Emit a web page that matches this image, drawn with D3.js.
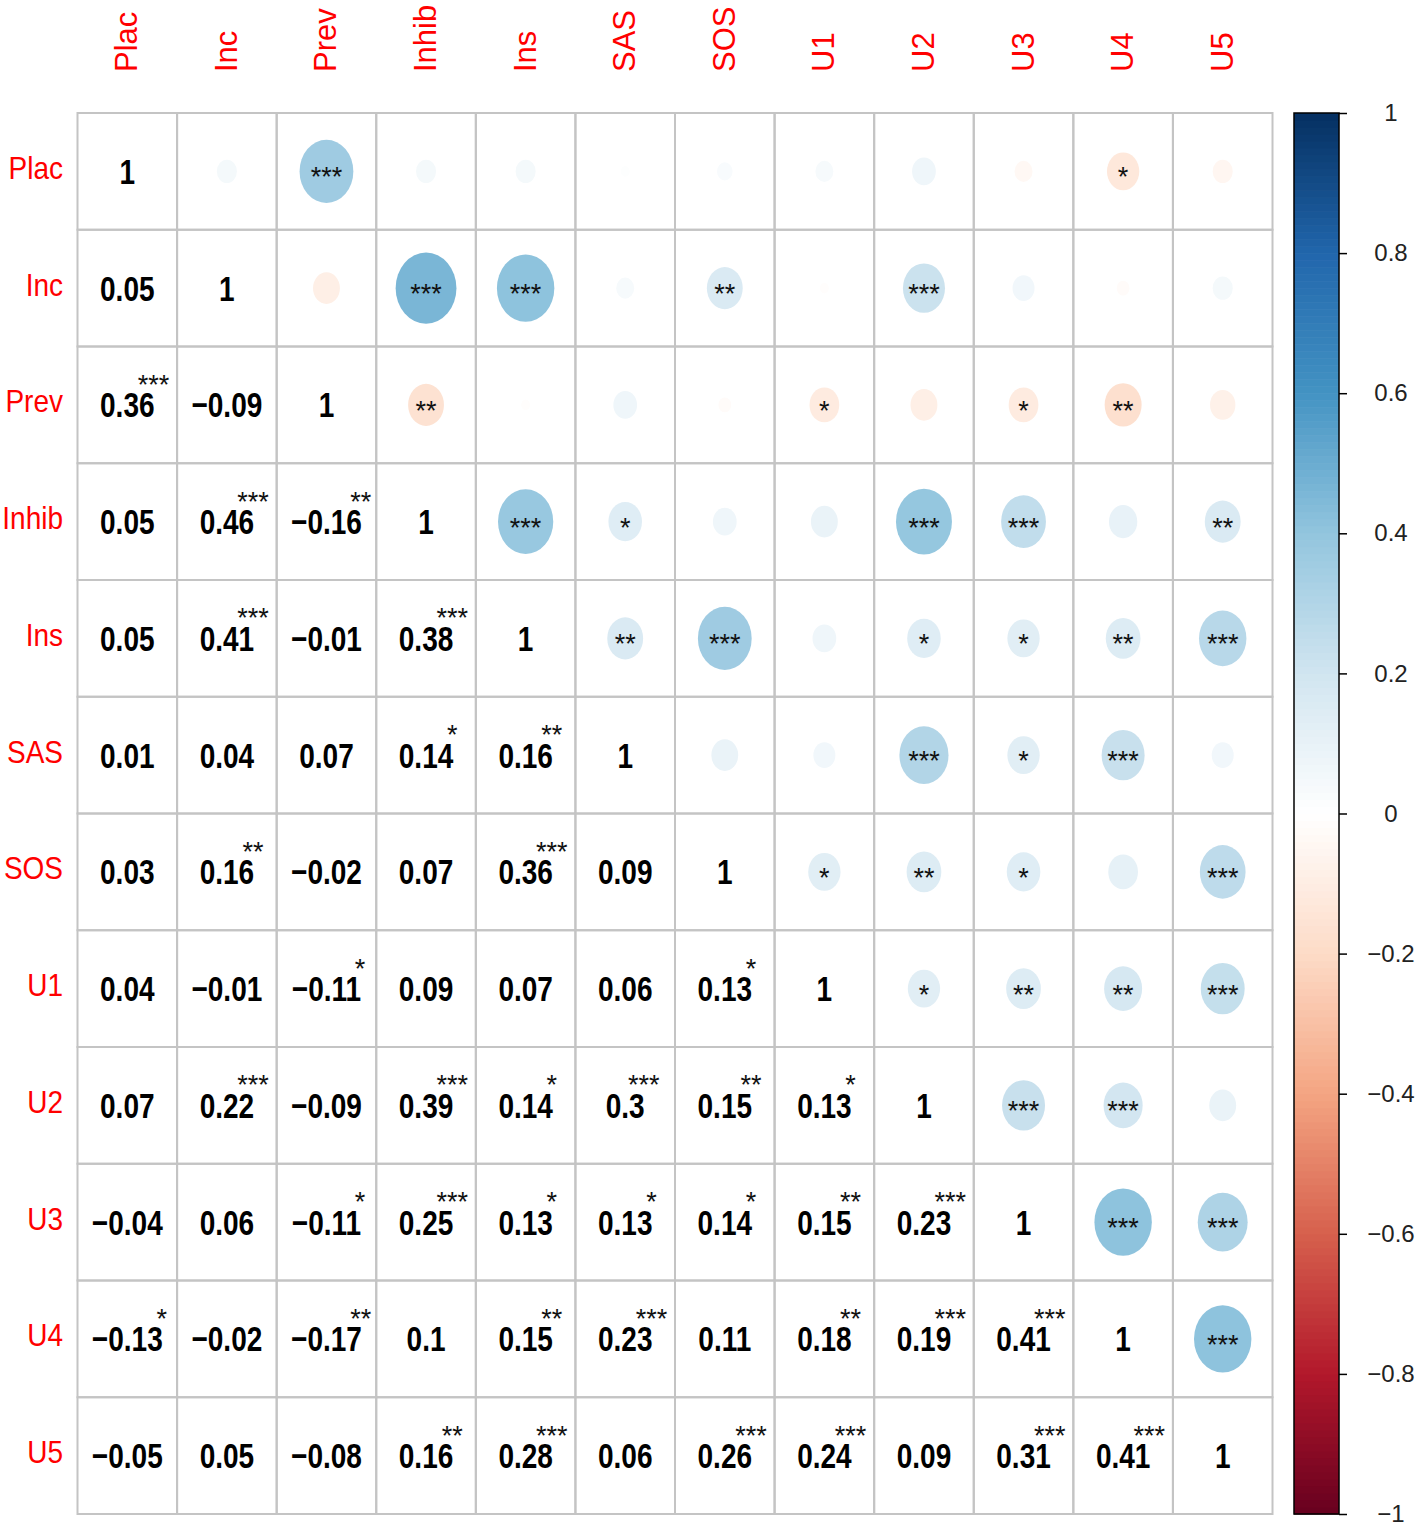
<!DOCTYPE html>
<html>
<head>
<meta charset="utf-8">
<script src="https://cdn.jsdelivr.net/npm/d3@7"></script>
<style>
  body { margin: 0; background: #fff; }
  text { font-family: "Liberation Sans", Arial, sans-serif; }
</style>
</head>
<body>
<svg id="chart" width="1418" height="1528"></svg>
<script>
const vars = ["Plac", "Inc", "Prev", "Inhib", "Ins", "SAS", "SOS", "U1", "U2", "U3", "U4", "U5"];

// lower triangle: row i holds correlations with columns 0..i-1
const lowerVals = [
  [],
  [0.05],
  [0.36, -0.09],
  [0.05, 0.46, -0.16],
  [0.05, 0.41, -0.01, 0.38],
  [0.01, 0.04, 0.07, 0.14, 0.16],
  [0.03, 0.16, -0.02, 0.07, 0.36, 0.09],
  [0.04, -0.01, -0.11, 0.09, 0.07, 0.06, 0.13],
  [0.07, 0.22, -0.09, 0.39, 0.14, 0.3, 0.15, 0.13],
  [-0.04, 0.06, -0.11, 0.25, 0.13, 0.13, 0.14, 0.15, 0.23],
  [-0.13, -0.02, -0.17, 0.1, 0.15, 0.23, 0.11, 0.18, 0.19, 0.41],
  [-0.05, 0.05, -0.08, 0.16, 0.28, 0.06, 0.26, 0.24, 0.09, 0.31, 0.41]
];

// number of significance stars, same layout
const lowerStars = [
  [],
  [0],
  [3, 0],
  [0, 3, 2],
  [0, 3, 0, 3],
  [0, 0, 0, 1, 2],
  [0, 2, 0, 0, 3, 0],
  [0, 0, 1, 0, 0, 0, 1],
  [0, 3, 0, 3, 1, 3, 2, 1],
  [0, 0, 1, 3, 1, 1, 1, 2, 3],
  [1, 0, 2, 0, 2, 3, 0, 2, 3, 3],
  [0, 0, 0, 2, 3, 0, 3, 3, 0, 3, 3]
];

const legendTicks = [1, 0.8, 0.6, 0.4, 0.2, 0, -0.2, -0.4, -0.6, -0.8, -1];
const paletteStops = ["#67001F", "#B2182B", "#D6604D", "#F4A582", "#FDDBC7", "#FFFFFF",
                      "#D1E5F0", "#92C5DE", "#4393C3", "#2166AC", "#053061"];

const svg = d3.select("#chart");

const x = d3.scaleBand().domain(vars).range([77.5, 1272.5]);
const y = d3.scaleBand().domain(vars).range([113, 1514]);
const bw = x.bandwidth(), bh = y.bandwidth();

const color = d3.scaleLinear()
  .domain(d3.range(11).map(k => -1 + k * 0.2))
  .range(paletteStops)
  .interpolate(d3.interpolateRgb);

const fmt = v => (v < 0 ? "\u2212" : "") + Math.abs(v);

// full matrix
let cells = [];
vars.forEach((ri, i) => {
  vars.forEach((cj, j) => {
    let r, s;
    if (i === j) { r = 1; s = 0; }
    else if (j < i) { r = lowerVals[i][j]; s = lowerStars[i][j]; }
    else { r = lowerVals[j][i]; s = lowerStars[j][i]; }
    cells.push({ i, j, row: ri, col: cj, r, s });
  });
});

// grid
svg.append("g")
  .selectAll("rect")
  .data(cells)
  .join("rect")
  .attr("x", d => x(d.col))
  .attr("y", d => y(d.row))
  .attr("width", bw)
  .attr("height", bh)
  .attr("fill", "none")
  .attr("stroke", "#c4c4c4")
  .attr("stroke-width", 2);

// upper triangle: circles (stretched with the cell)
let upper = cells.filter(d => d.j > d.i);
svg.append("g")
  .selectAll("ellipse")
  .data(upper)
  .join("ellipse")
  .attr("cx", d => x(d.col) + bw / 2)
  .attr("cy", d => y(d.row) + bh / 2)
  .attr("rx", d => 0.45 * Math.sqrt(Math.abs(d.r)) * bw)
  .attr("ry", d => 0.45 * Math.sqrt(Math.abs(d.r)) * bh)
  .attr("fill", d => color(d.r));

svg.append("g")
  .selectAll("text")
  .data(upper.filter(d => d.s > 0))
  .join("text")
  .attr("x", d => x(d.col) + bw / 2)
  .attr("y", d => y(d.row) + bh / 2 + 15)
  .attr("text-anchor", "middle")
  .attr("font-size", 27)
  .attr("fill", "#111")
  .text(d => "*".repeat(d.s));

// lower triangle + diagonal: numbers
let lower = cells.filter(d => d.j <= d.i);
let numG = svg.append("g")
  .selectAll("g")
  .data(lower)
  .join("g")
  .attr("transform", d => `translate(${x(d.col) + bw / 2},${y(d.row) + bh / 2 + 12.5}) scale(0.8,1)`);

numG.append("text")
  .attr("text-anchor", "middle")
  .attr("font-size", 35)
  .attr("font-weight", "bold")
  .attr("fill", "#000")
  .text(d => fmt(d.r))
  .each(function (d) { d.w = this.getComputedTextLength() * 0.8; });

svg.append("g")
  .selectAll("text")
  .data(lower.filter(d => d.s > 0))
  .join("text")
  .attr("x", d => x(d.col) + bw / 2 + d.w / 2 - 1)
  .attr("y", d => y(d.row) + bh / 2 - 26 + 15)
  .attr("text-anchor", "middle")
  .attr("font-size", 27)
  .attr("fill", "#111")
  .text(d => "*".repeat(d.s));

// row labels
svg.append("g")
  .selectAll("text")
  .data(vars)
  .join("text")
  .attr("transform", d => `translate(63,${y(d) + bh / 2 + 7.5}) scale(1,1.14)`)
  .attr("text-anchor", "end")
  .attr("font-size", 28)
  .attr("fill", "#ff0000")
  .text(d => d);

// column labels
svg.append("g")
  .selectAll("text")
  .data(vars)
  .join("text")
  .attr("transform", d => `translate(${x(d) + bw / 2 + 10},72) rotate(-90)`)
  .attr("text-anchor", "start")
  .attr("font-size", 31)
  .attr("fill", "#ff0000")
  .text(d => d);

// colour legend
const cb = d3.scaleLinear().domain([-1, 1]).range([1514, 113]);
const barX = 1294, barW = 45;
const steps = d3.range(200).map(k => -1 + k * 0.01);

svg.append("g")
  .selectAll("rect")
  .data(steps)
  .join("rect")
  .attr("x", barX)
  .attr("y", v => cb(v + 0.01))
  .attr("width", barW)
  .attr("height", v => cb(v) - cb(v + 0.01) + 0.6)
  .attr("fill", v => color(v + 0.005));

svg.append("rect")
  .attr("x", barX)
  .attr("y", cb(1))
  .attr("width", barW)
  .attr("height", cb(-1) - cb(1))
  .attr("fill", "none")
  .attr("stroke", "#000")
  .attr("stroke-width", 1.5);

let axis = svg.append("g")
  .attr("transform", `translate(${barX + barW},0)`)
  .call(d3.axisRight(cb).tickValues(legendTicks).tickSize(8).tickFormat(fmt));

axis.select(".domain").remove();
axis.selectAll(".tick line").attr("stroke", "#000").attr("stroke-width", 1.5);
axis.selectAll(".tick text")
  .attr("x", 52)
  .attr("text-anchor", "middle")
  .attr("font-size", 24)
  .attr("font-family", "'Liberation Sans', Arial, sans-serif")
  .attr("fill", "#222");
</script>
</body>
</html>
